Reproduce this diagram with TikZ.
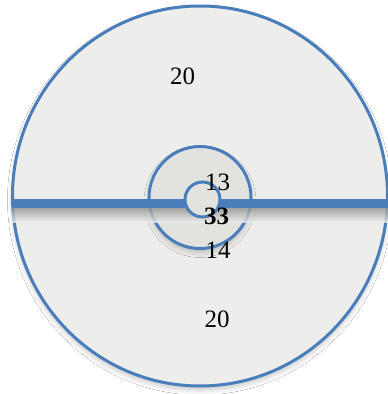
\documentclass[tikz,border=0pt]{standalone}
\usepackage{fontspec}
\setmainfont{Liberation Serif}
\usetikzlibrary{shadows.blur}
\definecolor{ringblue}{HTML}{4A7EBB}
\definecolor{discgray}{HTML}{EDEDEB}
\definecolor{hubgray}{HTML}{E2E2DF}
\tikzset{
  ring/.style={draw=ringblue, line width=3pt},
  shad/.style={blur shadow={shadow xshift=0pt, shadow yshift=-4pt, shadow blur radius=5pt, shadow blur steps=10, shadow opacity=22}},
  bar/.style={draw=ringblue, line width=8.5pt},
  num/.style={inner sep=0pt, font=\fontsize{25}{30}\selectfont}
}
\begin{document}
\begin{tikzpicture}[x=1pt,y=-1pt]
\useasboundingbox (0,0) rectangle (388,394);
\fill[white] (0,0) rectangle (388,394);
% outer disc
\path[ring, fill=discgray, shad] (200,196) ellipse [x radius=187.5, y radius=190];
\coordinate (outerW) at (12.5,203.5);
\coordinate (outerE) at (390,203.5);
% middle hub
\path[ring, fill=hubgray, shad] (200,197.5) circle [radius=51];
% bar shadow
\shade[top color=black!40!discgray, bottom color=discgray, opacity=0.8] (12.5,207) rectangle (388,222);
% inner circle
\coordinate (innerW) at (185,203.5);
\coordinate (innerE) at (220,203.5);
\draw[bar] (outerW) -- (innerW);
\draw[bar] (innerE) -- (outerE);
\path[ring, fill=hubgray] (202.5,199.5) circle [radius=17.5];
% labels
\node[num] (t20) at (182.5,76) {20};
\node[num] (t13) at (217.5,182) {13};
\node[num] (t33) at (216.5,216.5) {\textbf{33}};
\node[num] (t14) at (218,250.5) {14};
\node[num] (b20) at (217,319) {20};
\end{tikzpicture}
\end{document}
